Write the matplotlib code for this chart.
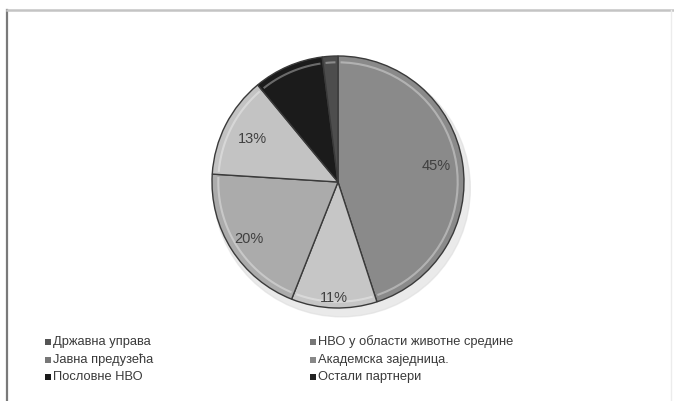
import numpy as np
import matplotlib
matplotlib.use("Agg")
import matplotlib.pyplot as plt
from matplotlib.patches import Rectangle, Ellipse
from matplotlib.lines import Line2D

plt.rcParams['font.family'] = ['Liberation Sans', 'DejaVu Sans']

# data
labels = ['Државна управа', 'НВО у области животне средине', 'Јавна предузећа',
          'Академска заједница.', 'Пословне НВО', 'Остали партнери']
shares = [45, 11, 20, 13, 9, 2]
pct_text = ['45%', '11%', '20%', '13%', '', '']

colors = ['#8a8a8a', '#c6c6c6', '#ababab', '#c3c3c3', '#1b1b1b', '#4d4d4d']
legend_colors = ['#555555', '#777777', '#777777', '#888888', '#1a1a1a', '#222222']
label_dist = [0.79, 0.92, 0.84, 0.76, 0.7, 0.7]

W, H = 674, 401
fig = plt.figure(figsize=(W / 100, H / 100), dpi=100)
fig.patch.set_facecolor('white')

# chart frame
fig.add_artist(Line2D([7 / W, 7 / W], [0, 1 - 10 / H], color='#7a7a7a', lw=1.6))
fig.add_artist(Line2D([7 / W, 1], [1 - 10 / H, 1 - 10 / H], color='#c4c4c4', lw=1.8))
fig.add_artist(Line2D([671 / W, 671 / W], [0, 1 - 10 / H], color='#ececec', lw=1.0))

cx, cy, r = 338, 182, 126
ax = fig.add_axes([(cx - r) / W, (H - cy - r) / H, 2 * r / W, 2 * r / H])

# soft shadow below pie
ax.add_patch(Ellipse((0.03, -0.05), 2.04, 2.04, color='#dddddd', alpha=0.6, zorder=0, clip_on=False))

wedges, _ = ax.pie(shares, colors=colors, startangle=90, counterclock=False, radius=1.0,
                   wedgeprops=dict(edgecolor='#3a3a3a', linewidth=1.0))
ax.set_xlim(-1, 1)
ax.set_ylim(-1, 1)
ax.axis('off')
for w in wedges:
    w.set_zorder(2)
    w.set_clip_on(False)

# inner highlight lines to mimic bevel
for w in wedges:
    t1, t2 = np.deg2rad(w.theta1), np.deg2rad(w.theta2)
    tt = np.linspace(t1 + 0.03, t2 - 0.03, 40)
    ax.plot(0.95 * np.cos(tt), 0.95 * np.sin(tt), color='white', alpha=0.35, lw=1.5, zorder=3,
            clip_on=False)

for w, txt, d in zip(wedges, pct_text, label_dist):
    if not txt:
        continue
    mid = np.deg2rad((w.theta1 + w.theta2) / 2)
    ax.text(d * np.cos(mid), d * np.sin(mid), txt, ha='center', va='center',
            fontsize=10.5, color='#404040', zorder=4)

# legend, two columns, row-major
col_x = [48, 313]
row_y = [342, 360, 377]
for i, (lab, c) in enumerate(zip(labels, legend_colors)):
    x = col_x[i % 2]
    y = row_y[i // 2]
    fig.add_artist(Rectangle(((x - 3) / W, (H - y - 3) / H), 6 / W, 6 / H,
                             facecolor=c, edgecolor='none'))
    fig.text((x + 5) / W, (H - y) / H, lab, fontsize=9.3, color='#3a3a3a', va='center', ha='left')

fig.savefig('out.png', dpi=100)
